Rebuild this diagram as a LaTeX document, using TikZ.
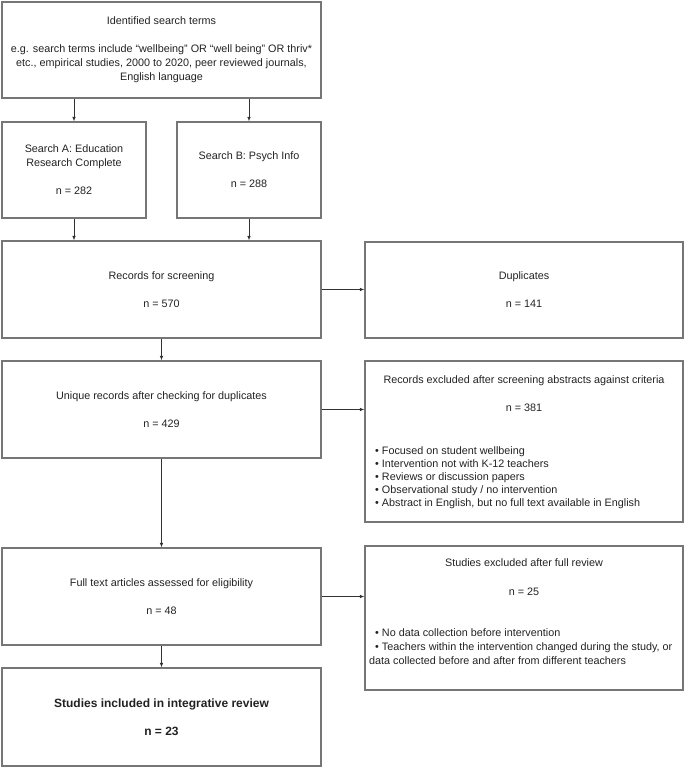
\documentclass[tikz,border=0pt]{standalone}
\usepackage{fontspec}
\setmainfont{Liberation Sans}
\usetikzlibrary{arrows.meta}
\definecolor{boxline}{RGB}{118,118,118}
\definecolor{txt}{RGB}{34,34,34}
\definecolor{arrc}{RGB}{50,50,50}
\begin{document}
\begin{tikzpicture}[x=1bp,y=-1bp,
  box/.style={draw=boxline,line width=1.1bp,inner sep=0pt,align=center,text=txt,
    font=\fontsize{10.8bp}{14bp}\selectfont},
  lt/.style={inner sep=0pt,text=txt,font=\fontsize{10.8bp}{14bp}\selectfont},
  arr/.style={draw=arrc,line width=0.8bp,-{Latex[length=4.5bp,width=3.6bp]}}
]
\useasboundingbox (0,0) rectangle (685,767);

\node[box,minimum width=319bp,minimum height=96bp] (top) at (161.5,50)
 {Identified search terms\\[14bp]
  e.g. search terms include “wellbeing” OR “well being” OR thriv*\\
  etc., empirical studies, 2000 to 2020, peer reviewed journals,\\
  English language};

\node[box,minimum width=144bp,minimum height=96bp] (sa) at (74,170)
 {Search A: Education\\Research Complete\\[14bp]n = 282};
\node[box,minimum width=144bp,minimum height=96bp] (sb) at (249,170)
 {Search B: Psych Info\\[14bp]n = 288};

\node[box,minimum width=319bp,minimum height=97bp] (rec) at (161.5,289.5)
 {Records for screening\\[14bp]n = 570};
\node[box,minimum width=318bp,minimum height=96bp] (dup) at (524,290)
 {Duplicates\\[14bp]n = 141};

\node[box,minimum width=319bp,minimum height=97bp] (uniq) at (161.5,409.5)
 {Unique records after checking for duplicates\\[14bp]n = 429};
\node[box,minimum width=318bp,minimum height=161bp] (ex1) at (524,441.5) {};
\node[lt] (ex1t) at (524,381) {Records excluded after screening abstracts against criteria};
\node[lt] (ex1n) at (524,408) {n = 381};
\node[lt,anchor=mid west] (ex1a) at (375,452) {• Focused on student wellbeing};
\node[lt,anchor=mid west] (ex1b) at (375,465) {• Intervention not with K-12 teachers};
\node[lt,anchor=mid west] (ex1c) at (375,478) {• Reviews or discussion papers};
\node[lt,anchor=mid west] (ex1d) at (375,491) {• Observational study / no intervention};
\node[lt,anchor=mid west] (ex1e) at (375,504) {• Abstract in English, but no full text available in English};

\node[box,minimum width=319bp,minimum height=97bp] (full) at (161.5,596.5)
 {Full text articles assessed for eligibility\\[14bp]n = 48};
\node[box,minimum width=318bp,minimum height=144bp] (ex2) at (524,618) {};
\node[lt] (ex2t) at (524,563) {Studies excluded after full review};
\node[lt] (ex2n) at (524,592) {n = 25};
\node[lt,anchor=mid west] (ex2a) at (375,634) {• No data collection before intervention};
\node[lt,anchor=mid west] (ex2b) at (375,648) {• Teachers within the intervention changed during the study, or};
\node[lt,anchor=mid west] (ex2c) at (369,662) {data collected before and after from different teachers};

\node[box,minimum width=319bp,minimum height=98bp,font=\bfseries\fontsize{12bp}{14bp}\selectfont] (inc) at (161.5,717)
 {Studies included in integrative review\\[14bp]n = 23};

\draw[arr] (sa.north |- top.south) -- (sa.north);
\draw[arr] (sb.north |- top.south) -- (sb.north);
\draw[arr] (sa.south) -- (sa.south |- rec.north);
\draw[arr] (sb.south) -- (sb.south |- rec.north);
\draw[arr] (rec.east) -- (rec.east -| dup.west);
\draw[arr] (rec.south) -- (uniq.north);
\draw[arr] (uniq.east) -- (uniq.east -| ex1.west);
\draw[arr] (uniq.south) -- (full.north);
\draw[arr] (full.east) -- (full.east -| ex2.west);
\draw[arr] (full.south) -- (inc.north);
\end{tikzpicture}
\end{document}
